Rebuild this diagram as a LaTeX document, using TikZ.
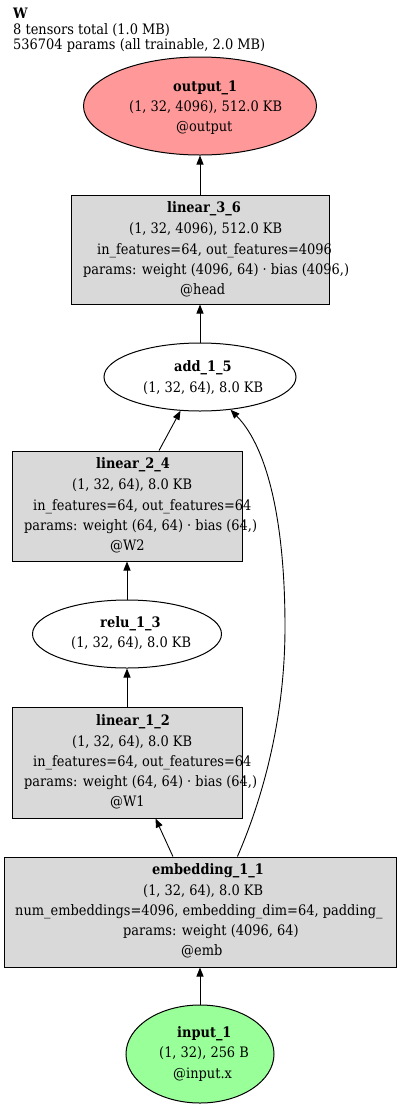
\documentclass[tikz,border=0pt]{standalone}
\usepackage{fontspec}
\setmainfont{DejaVu Serif}[FakeStretch=0.9]
\usetikzlibrary{shapes.geometric,arrows.meta}
\definecolor{outred}{HTML}{FF9999}
\definecolor{ingreen}{HTML}{99FF99}
\definecolor{opgray}{HTML}{D9D9D9}
\begin{document}
\begin{tikzpicture}[x=1pt, y=-1pt,
    tensor/.style={ellipse, draw, line width=1pt, inner sep=0pt},
    layer/.style={rectangle, draw, line width=1pt, fill=opgray, inner sep=0pt},
    lbl/.style={anchor=base west, inner sep=0pt, font=\fontsize{14.4}{16}\selectfont},
    hdr/.style={lbl, font=\fontsize{14.4}{16}\selectfont\bfseries},
    flow/.style={-{Triangle[length=9pt,width=7pt]}, line width=0.9pt}]
    \useasboundingbox (0,0) rectangle (400,1109);
    \clip (0,0) rectangle (400,1109);
    % graph title
    \node[hdr] (ttl) at (13,18) {W};
    \node[lbl] (ttl2) at (13,34) {8 tensors total (1.0 MB)};
    \node[lbl] (ttl3) at (13,49) {536704 params (all trainable, 2.0 MB)};
    % shapes
    \node[tensor, fill=outred, minimum width=233pt, minimum height=98pt] (out) at (200,106) {};
    \node[layer, minimum width=258pt, minimum height=109pt] (lin36) at (200,249.5) {};
    \node[tensor, fill=white, minimum width=192pt, minimum height=68pt] (add) at (200,377) {};
    \node[layer, minimum width=230pt, minimum height=110pt] (lin24) at (127,506) {};
    \node[tensor, fill=white, minimum width=189pt, minimum height=68pt] (relu) at (127,634) {};
    \node[layer, minimum width=230pt, minimum height=111pt] (lin12) at (127,762.5) {};
    \node[layer, minimum width=392pt, minimum height=110pt] (emb) at (200,912) {};
    \node[tensor, fill=ingreen, minimum width=148pt, minimum height=98pt] (inp) at (200,1054) {};
    % labels
    \node[hdr] (out1) at (173,91) {output\_1};
    \node[lbl] (out2) at (129,111) {(1, 32, 4096), 512.0 KB};
    \node[lbl] (out3) at (176,131) {@output};
    \node[hdr] (lin36a) at (167,212) {linear\_3\_6};
    \node[lbl] (lin36b) at (129,233) {(1, 32, 4096), 512.0 KB};
    \node[lbl] (lin36c) at (97,254) {in\_features=64, out\_features=4096};
    \node[lbl] (lin36d) at (83,274) {params: weight (4096, 64) · bias (4096,)};
    \node[lbl] (lin36e) at (180,294) {@head};
    \node[hdr] (add1) at (174,371) {add\_1\_5};
    \node[lbl] (add2) at (143,392) {(1, 32, 64), 8.0 KB};
    \node[hdr] (lin24a) at (96,468) {linear\_2\_4};
    \node[lbl] (lin24b) at (72,489) {(1, 32, 64), 8.0 KB};
    \node[lbl] (lin24c) at (33,510) {in\_features=64, out\_features=64};
    \node[lbl] (lin24d) at (24,530) {params: weight (64, 64) · bias (64,)};
    \node[lbl] (lin24e) at (110,550) {@W2};
    \node[hdr] (relu1) at (100,627) {relu\_1\_3};
    \node[lbl] (relu2) at (71,647) {(1, 32, 64), 8.0 KB};
    \node[hdr] (lin12a) at (96,725) {linear\_1\_2};
    \node[lbl] (lin12b) at (72,746) {(1, 32, 64), 8.0 KB};
    \node[lbl] (lin12c) at (33,766) {in\_features=64, out\_features=64};
    \node[lbl] (lin12d) at (24,786) {params: weight (64, 64) · bias (64,)};
    \node[lbl] (lin12e) at (110,806) {@W1};
    \node[hdr] (emb1) at (152,874) {embedding\_1\_1};
    \node[lbl] (emb2) at (143,895) {(1, 32, 64), 8.0 KB};
    \node[lbl] (emb3) at (15,915) {num\_embeddings=4096, embedding\_dim=64, padding\_};
    \node[lbl] (emb4) at (123,935) {params: weight (4096, 64)};
    \node[lbl] (emb5) at (181,955) {@emb};
    \node[hdr] (inp1) at (177,1037) {input\_1};
    \node[lbl] (inp2) at (159,1057) {(1, 32), 256 B};
    \node[lbl] (inp3) at (173,1078) {@input.x};
    % edges
    \draw[flow] (lin36) -- (out);
    \draw[flow] (add) -- (lin36);
    \draw[flow] (lin24.60.6) -- (add.-120);
    \draw[flow] (relu) -- (lin24);
    \draw[flow] (lin12) -- (relu);
    \draw[flow] (emb.116) -- (lin12.-63.4);
    \draw[flow] (emb.56.8) .. controls (262,800) and (285,720) .. (285,627)
        .. controls (285,530) and (270,450) .. (add.-47);
    \draw[flow] (inp) -- (emb);
\end{tikzpicture}
\end{document}
